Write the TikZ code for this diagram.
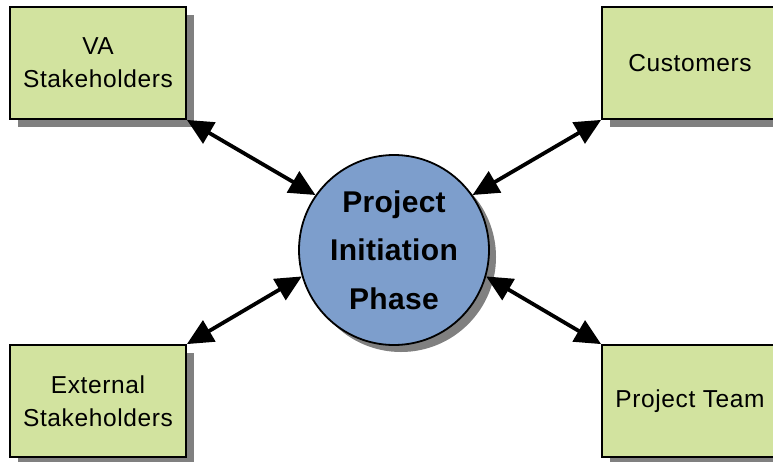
\documentclass[tikz,border=0pt]{standalone}
\usepackage{fontspec}
\setmainfont{Liberation Sans}
\newfontfamily\labelfont[LetterSpace=2.5]{Liberation Sans}
\newfontfamily\hubfont[LetterSpace=1]{Liberation Sans}
\usetikzlibrary{arrows.meta,shadows}
\definecolor{boxgreen}{HTML}{D2E39F}
\definecolor{hubblue}{HTML}{7D9ECC}
\definecolor{shadowgray}{HTML}{808080}
\tikzset{
  party/.style={draw=black, line width=1.8pt, fill=boxgreen,
    minimum width=176pt, minimum height=112pt, inner sep=0pt,
    align=center, font=\labelfont\fontsize{24.5}{33}\selectfont,
    drop shadow={shadow xshift=8pt, shadow yshift=-8pt, fill=shadowgray, opacity=1}},
  hub/.style={circle, draw=black, line width=1.8pt, fill=hubblue,
    minimum size=190pt, inner sep=0pt, align=center,
    font=\hubfont\bfseries\fontsize{30}{48.5}\selectfont,
    drop shadow={shadow xshift=7pt, shadow yshift=-7pt, fill=shadowgray, opacity=1}},
  link/.style={line width=3.8pt, {Triangle[length=26pt,width=24pt]}-{Triangle[length=26pt,width=24pt]}}
}
\begin{document}
\begin{tikzpicture}[x=1pt,y=-1pt]
  \useasboundingbox (0,0) rectangle (773,461);
  \clip (0,0) rectangle (773,461);
  \node[party] (va)   at (98,63)   {VA\\Stakeholders};
  \node[party] (cust) at (690,63)  {Customers};
  \node[party] (ext)  at (98,401)  {External\\Stakeholders};
  \node[party] (team) at (690,401) {Project Team};
  \node[hub] (pip) at (394,250) {Project\\Initiation\\Phase};
  \draw[link] (va.south east)   -- (pip.145);
  \draw[link] (cust.south west) -- (pip.35);
  \draw[link] (ext.north east)  -- (pip.196);
  \draw[link] (team.north west) -- (pip.-16);
\end{tikzpicture}
\end{document}
